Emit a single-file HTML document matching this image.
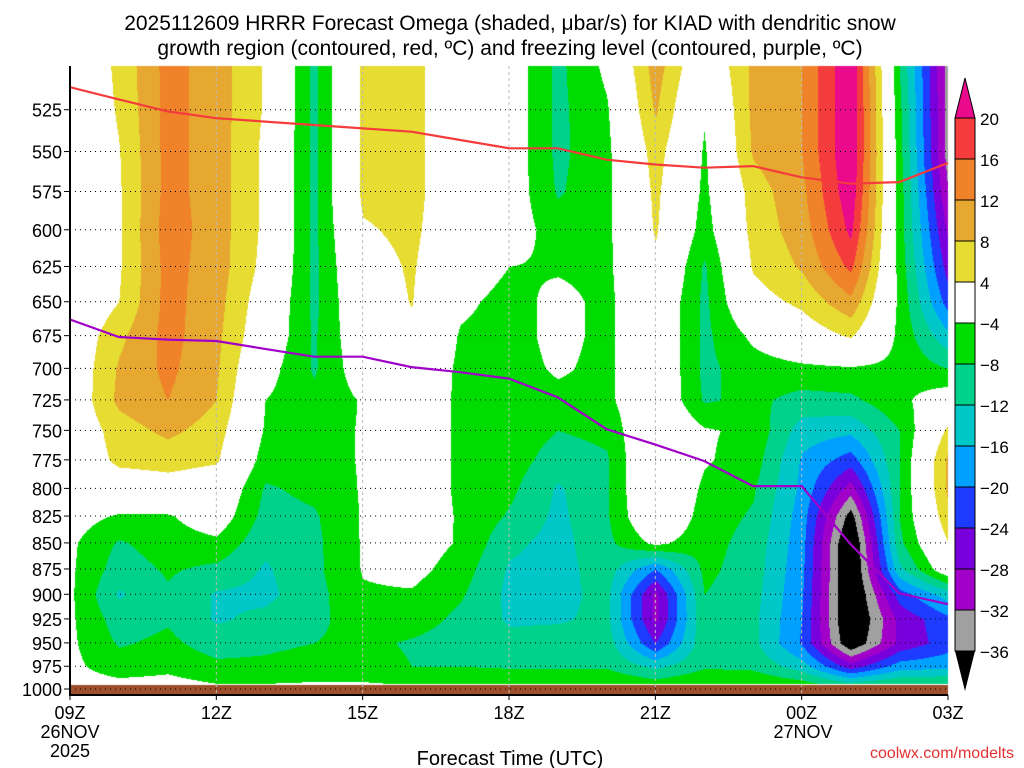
<!DOCTYPE html>
<html><head><meta charset="utf-8"><style>
body{margin:0;background:#fff;width:1024px;height:768px;overflow:hidden;font-family:"Liberation Sans",sans-serif}
#wrap{position:relative;width:1024px;height:768px}
canvas{position:absolute;left:0;top:0}
svg{position:absolute;left:0;top:0}
</style></head><body>
<div id="wrap">
<canvas id="cv" width="1024" height="768"></canvas>
<svg id="sv" width="1024" height="768"></svg>
</div>
<script>
const hours=[0,1,2,3,4,5,6,7,8,9,10,11,12,13,14,15,16,17,18];
const levels=[500,525,550,575,600,625,650,675,700,725,750,775,800,825,850,875,900,925,950,975,1000];
// omega values per hour column, listed top (500) to bottom (1000)
const omega=[
[-1,-1,-1,-1,-1,-1,-1,0,0,0,0,0,-1,-2,-3.2,-3.3,-3.3,-3.3,-3.2,-3,-2],
[5,4.5,3.8,3.5,3.5,3.5,4,7,8.5,9,6,5,1,-4.5,-8.5,-10,-12.5,-10,-8.5,-6,-2],
[13.5,13.5,13.5,13.5,14,13.5,13.5,13.5,13,12,9,5.5,2,-4.5,-6,-7.5,-8.5,-8.5,-7,-5,-2],
[10,10,10,10,10,10,9.5,9,8.5,8,6,4.5,1,-1,-5,-9,-12.5,-12.5,-10,-7,-3],
[3.5,3.5,3,3,3,2.5,1,0,-2,-4,-4.5,-6,-8.5,-9.5,-11,-12.5,-13,-11,-9,-7,-3],
[-9,-9,-9,-9,-9,-9,-9,-8.5,-8.5,-7,-6,-6,-7,-8.5,-9,-9,-9.5,-9,-8,-6,-3],
[5,5,5,5,3.5,2,1,0,-1,-3.6,-3.6,-3.6,-3.6,-3.6,-3.6,-3.7,-4.5,-6,-7,-6,-3],
[5.5,5.5,5.5,5.5,5,4.5,4.2,3,1,0,0,0,0,-1,-1.5,-2.5,-4.5,-6,-8.5,-8,-3],
[0,0,0,0,0,-1,-3,-4.5,-5,-5,-5,-5,-5,-4.5,-4.5,-6,-7.5,-9,-10,-8,-3],
[-1,-1,-1,-1,-1.5,-4,-5.5,-5.5,-5.5,-5.5,-5.5,-6,-7,-8.5,-11,-12.5,-13,-12.5,-11,-8.5,-3],
[-9,-9,-9,-8.5,-6,-4.5,-2.8,-2.8,-3.5,-5,-8,-10,-12.5,-13,-13.5,-13.5,-13,-12.5,-10,-8.5,-3],
[-3,-4.5,-5,-5,-5,-5,-5,-5,-5,-5,-7,-8.5,-8.5,-8.5,-9,-10,-11,-11,-10,-8.5,-3],
[10,8.5,6,5,4.5,3,1,1,1,1,2,3,3,2,-3,-20,-29,-29,-24,-13,-4],
[-1,-3.5,-4.5,-5,-6,-8.5,-9,-9,-9,-8.5,-3.5,-3.5,-5,-6,-6.5,-7,-8,-8.5,-9,-8.5,-3],
[9,9,8.5,6,5.5,4.5,2,-3,-6,-7,-5,-6,-7.5,-8.5,-9.5,-10,-10.5,-11,-11,-9,-3],
[12,12,12,11,10,8.5,5,1,-5,-9.5,-14,-16.5,-17,-18,-18.5,-19,-19.5,-20,-20.5,-14,-4],
[24,24,24,23,21,17,11,4.5,-4.5,-9,-15,-22,-30,-38,-42,-42,-42,-42,-40,-26,-6],
[-8,-7,-6.5,-6,-6,-5.5,-5,-5,-5,-5,-8,-8,-8,-8,-9,-13,-22,-27,-27,-18,-5],
[-34,-34,-34,-32,-29,-26,-22,-15,-8,-1,5,9,9,7,4,0,-14,-21,-22,-17,-5]
];
const redTimes=[0,1,2,3,4,5,6,7,8,9,10,11,12,13,14,15,16,17,18];
const redP=[512,519,526,530,532,534,536,538,543,548,548,555,558,560,559,566,570,569,557];
const purpleTimes=[0,1,2,3,4,5,6,7,8,9,10,11,12,13,14,15,16,17,18];
const purpleP=[663,676,678,679,685,691,691,699,703,708,723,749,762,776,798,798,851,899,910];
const xTickLabels=["09Z","12Z","15Z","18Z","21Z","00Z","03Z"];
const xTickHours=[0,3,6,9,12,15,18];
const cbLevels=[20,16,12,8,4,-4,-8,-12,-16,-20,-24,-28,-32,-36];

const X0=70,X1=948,Y0=66,Y1=695;
const xs=h=>X0+(X1-X0)*h/18;
const ys=p=>689-899*Math.log(1000/p);
const cols=["#ea0a8c","#f53c3c","#f0822a","#e6a830","#e6dc32","#ffffff","#00dc00","#00d28c","#00c8c8","#00a0ff","#1e3cff","#7800dc","#a000c8","#a0a0a0","#000000"];
function rgb(h){return [parseInt(h.substr(1,2),16),parseInt(h.substr(3,2),16),parseInt(h.substr(5,2),16)];}
const rgbs=cols.map(rgb);
function idxFor(v){for(let i=0;i<cbLevels.length;i++){if(v>cbLevels[i])return i;}return 14;}

const cv=document.getElementById('cv');const ctx=cv.getContext('2d');
const img=ctx.createImageData(X1-X0,684-Y0);
const lnl=levels.map(p=>Math.log(p));
for(let py=Y0;py<684;py++){
  const lp=Math.log(1000)-(689-py)/899;
  let j=0;while(j<levels.length-2&&lnl[j+1]<lp)j++;
  let fy=(lp-lnl[j])/(lnl[j+1]-lnl[j]);fy=Math.max(0,Math.min(1,fy));
  for(let px=X0;px<X1;px++){
    const h=(px-X0)/(X1-X0)*18;let i=Math.min(17,Math.floor(h));const fx=h-i;
    const v=(omega[i][j]*(1-fx)+omega[i+1][j]*fx)*(1-fy)+(omega[i][j+1]*(1-fx)+omega[i+1][j+1]*fx)*fy;
    const c=rgbs[idxFor(v)];const k=((py-Y0)*(X1-X0)+(px-X0))*4;
    img.data[k]=c[0];img.data[k+1]=c[1];img.data[k+2]=c[2];img.data[k+3]=255;
  }
}
ctx.putImageData(img,X0,Y0);
ctx.fillStyle="#9c4f2a";ctx.fillRect(X0,685,X1-X0,10);

const sv=document.getElementById('sv');const NS="http://www.w3.org/2000/svg";
function mk(t,a,txt){const e=document.createElementNS(NS,t);for(const k in a)e.setAttribute(k,a[k]);if(txt!==undefined)e.textContent=txt;sv.appendChild(e);return e;}
levels.forEach(p=>{if(p===500)return;
  const g=mk('line',{x1:X0,x2:X1,y1:ys(p),y2:ys(p),stroke:'#000','stroke-width':1,'stroke-dasharray':'1,4'});
  
  
  const t=mk('text',{x:62,y:ys(p)+7,'text-anchor':'end','font-size':18,fill:'#000'},String(p));
  
  
  mk('line',{x1:64,x2:70,y1:ys(p),y2:ys(p),stroke:'#000'});
});
xTickHours.forEach((h,i)=>{
  if(i>0&&i<6){const g=mk('line',{x1:xs(h),x2:xs(h),y1:Y0,y2:Y1,stroke:'#bbb','stroke-width':1,'stroke-dasharray':'3,3'});
  
  }
  const t=mk('text',{x:xs(h),y:719,'text-anchor':'middle','font-size':18,fill:'#000'},xTickLabels[i]);
  
  
  mk('line',{x1:xs(h),x2:xs(h),y1:Y1,y2:Y1+5,stroke:'#000'});
});
[["26NOV",70,738],["2025",70,757],["27NOV",803,738]].forEach(a=>{const t=mk('text',{x:a[1],y:a[2],'text-anchor':'middle','font-size':18},a[0]);
  
  });
function line(ts,ps,color,name){
  const d=ts.map((h,i)=>(i?'L':'M')+xs(h).toFixed(1)+','+ys(ps[i]).toFixed(1)).join('');
  const e=mk('path',{d:d,fill:'none',stroke:color,'stroke-width':2.2});
  
  
}
line(redTimes,redP,'#f53c3c','dendritic-growth-contour');
line(purpleTimes,purpleP,'#a000c8','freezing-level-contour');
const fr=mk('path',{d:`M${X0},${Y0}V${Y1}H${X1}`,fill:'none',stroke:'#000','stroke-width':2});


const CX=955,CW=20,cbTop=118,step=41;
const tri1=mk('polygon',{points:`${CX},${cbTop} ${CX+CW},${cbTop} ${CX+CW/2},78`,fill:cols[0],stroke:'#000'});


for(let i=1;i<14;i++){const r=mk('rect',{x:CX,y:cbTop+(i-1)*step,width:CW,height:step,fill:cols[i],stroke:'#000'});
  
  }
const tri2=mk('polygon',{points:`${CX},${cbTop+13*step} ${CX+CW},${cbTop+13*step} ${CX+CW/2},${cbTop+13*step+40}`,fill:'#000'});


cbLevels.forEach((v,i)=>{const t=mk('text',{x:980,y:cbTop+i*step+7,'font-size':17},(v<0?'\u2212':'')+Math.abs(v));
  
  });
const t1=mk('text',{x:510,y:30,'text-anchor':'middle','font-size':21},'2025112609 HRRR Forecast Omega (shaded, \u03BCbar/s) for KIAD with dendritic snow');


const t2=mk('text',{x:510,y:55,'text-anchor':'middle','font-size':21},'growth region (contoured, red, \u00BAC) and freezing level (contoured, purple, \u00BAC)');


const xt=mk('text',{x:510,y:765,'text-anchor':'middle','font-size':20},'Forecast Time (UTC)');


const cr=mk('text',{x:1014,y:758,'text-anchor':'end','font-size':16,fill:'#e03030'},'coolwx.com/modelts');


</script>
</body></html>
